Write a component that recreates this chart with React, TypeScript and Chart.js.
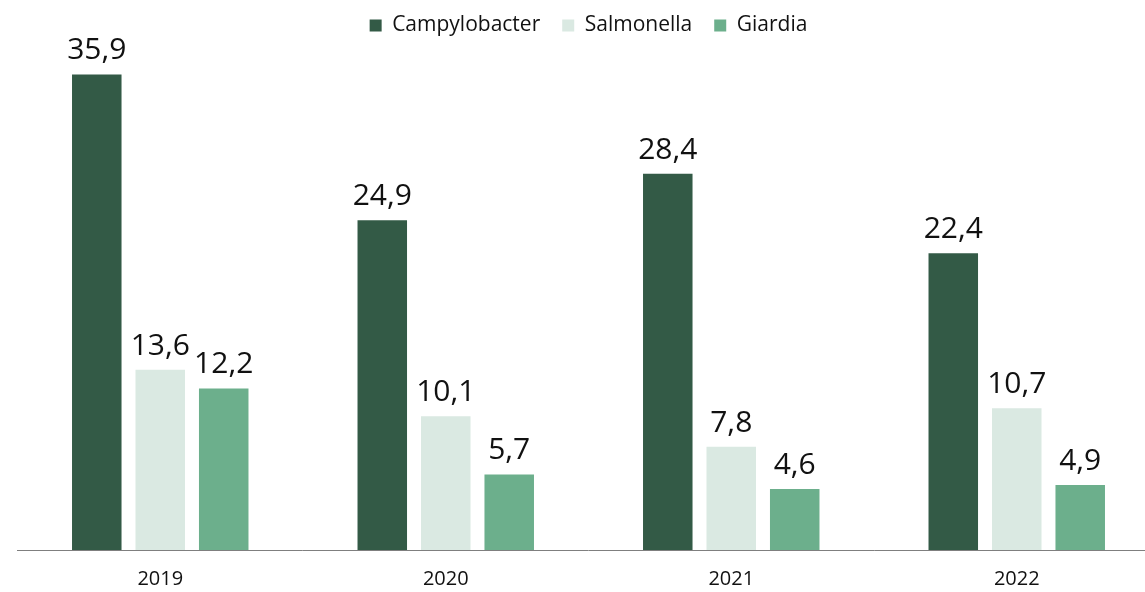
import React, { useEffect, useRef } from "react";
import { Chart, registerables } from "chart.js";

Chart.register(...registerables);

const years = ["2019", "2020", "2021", "2022"];
const campylobacter = [35.9, 24.9, 28.4, 22.4];
const salmonella = [13.6, 10.1, 7.8, 10.7];
const giardia = [12.2, 5.7, 4.6, 4.9];
const seriesNames = ["Campylobacter", "Salmonella", "Giardia"];
const seriesColors = ["#335A46", "#DAE9E2", "#6CAF8C"];

const FONT = "'Open Sans', 'DejaVu Sans', sans-serif";

const valueLabels = {
  id: "valueLabels",
  afterDatasetsDraw(chart: any) {
    const ctx = chart.ctx;
    ctx.save();
    ctx.font = `30px ${FONT}`;
    ctx.fillStyle = "#111111";
    ctx.textAlign = "center";
    ctx.textBaseline = "alphabetic";
    chart.data.datasets.forEach((ds: any, i: number) => {
      const meta = chart.getDatasetMeta(i);
      meta.data.forEach((el: any, j: number) => {
        const v = ds.data[j] as number;
        const txt = v.toFixed(1).replace(".", ",");
        ctx.fillText(txt, el.x, el.y - 15);
      });
    });
    ctx.restore();
  },
};

export default function App() {
  const ref = useRef<HTMLCanvasElement | null>(null);
  useEffect(() => {
    if (!ref.current) return;
    const data = [campylobacter, salmonella, giardia];
    const chart = new Chart(ref.current, {
      type: "bar",
      data: {
        labels: years,
        datasets: seriesNames.map((name, i) => ({
          label: name,
          data: data[i],
          backgroundColor: seriesColors[i],
          borderWidth: 0,
          categoryPercentage: 0.667,
          barPercentage: 0.78,
        })),
      },
      options: {
        animation: false,
        responsive: false,
        maintainAspectRatio: false,
        layout: { padding: { top: -7, left: 17.5, right: 0.5, bottom: 0 } },
        plugins: {
          legend: {
            position: "top",
            labels: {
              boxWidth: 12,
              boxHeight: 12,
              padding: 22,
              color: "#111111",
              font: { family: FONT, size: 21 },
            },
          },
          tooltip: { enabled: false },
        },
        scales: {
          x: {
            grid: { display: false, drawTicks: false },
            border: { display: true, color: "#7f7f7f", width: 1 },
            ticks: {
              padding: 17,
              color: "#111111",
              font: { family: FONT, size: 20 },
            },
          },
          y: {
            display: false,
            min: 0,
            max: 38.05,
          },
        },
      },
      plugins: [valueLabels],
    });
    return () => chart.destroy();
  }, []);
  return (
    <div
      style={{
        position: "fixed",
        left: 0,
        top: 0,
        width: "100vw",
        height: "100vh",
        overflow: "hidden",
        background: "#ffffff",
      }}
    >
      <canvas ref={ref} width={1160} height={608} style={{ display: "block" }} />
    </div>
  );
}
